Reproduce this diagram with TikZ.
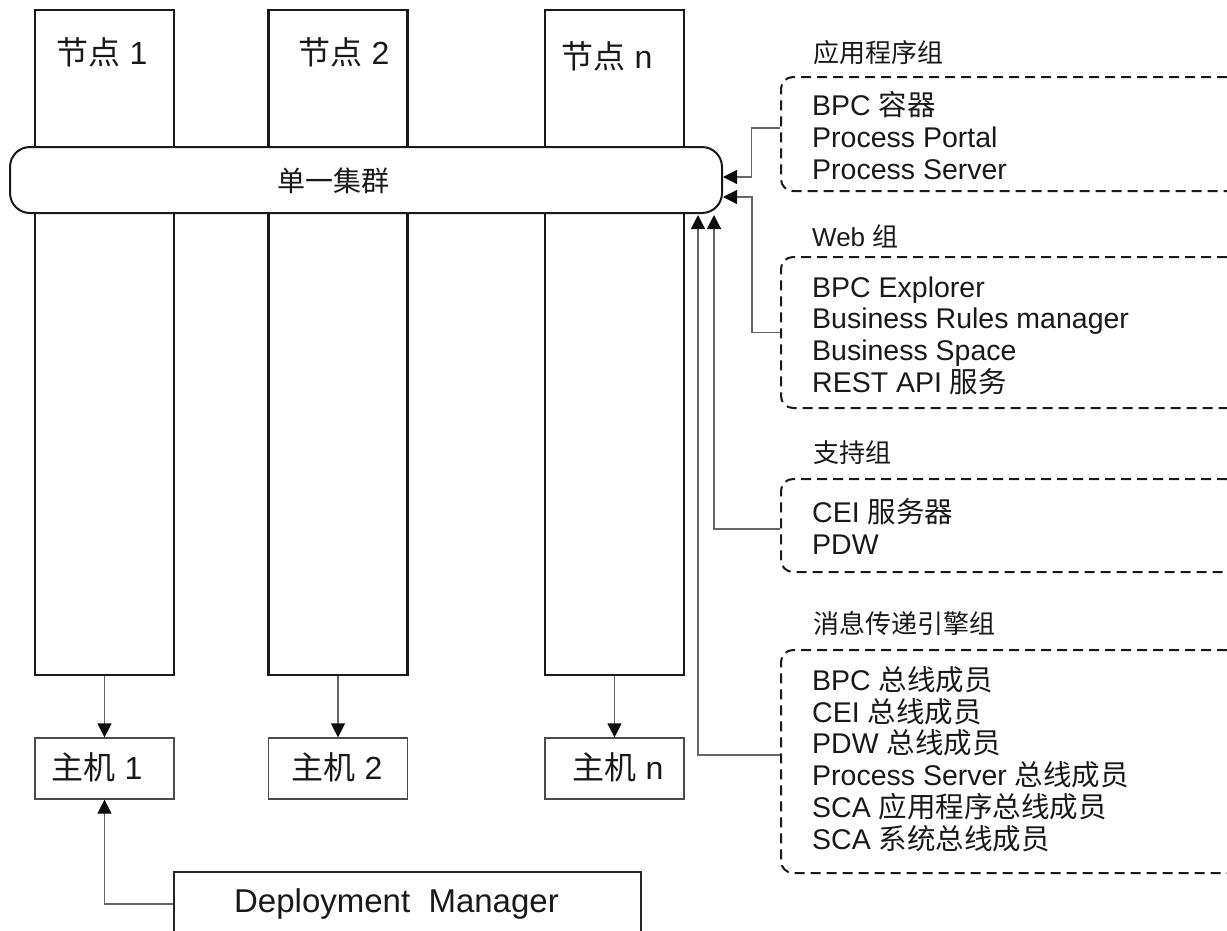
\documentclass[tikz,border=0pt]{standalone}
\usepackage{fontspec}
\setmainfont{Liberation Sans}
\newfontfamily\cjk{Noto Sans CJK SC}
\newcommand{\zh}[1]{{\cjk #1}}
\usetikzlibrary{arrows.meta,calc}
\begin{document}
\begin{tikzpicture}[x=1pt,y=-1pt,
  col/.style={draw=black!90,line width=2.2pt,minimum width=139pt,minimum height=665pt,inner sep=0pt},
  host/.style={draw=black!70,line width=1.2pt,minimum width=139pt,minimum height=61pt,inner sep=0pt},
  grp/.style={draw=black!90,line width=2pt,dash pattern=on 10pt off 6pt,rounded corners=12pt,minimum width=522pt,inner sep=0pt},
  conn/.style={draw=black!60,line width=1.2pt},
  arr/.style={conn,-{Triangle[length=14pt,width=14pt,color=black!95]}},
  big/.style={font=\fontsize{32}{32}\selectfont,inner sep=0pt,text=black!90},
  lbl/.style={font=\fontsize{26}{26}\selectfont,anchor=west,inner sep=0pt,text=black!90},
  items/.style={font=\fontsize{28.5}{31.7}\selectfont,align=left,anchor=west,inner sep=0pt,text=black!90},
]
\useasboundingbox (0,0) rectangle (1227,930);
\clip (0,0) rectangle (1227,930);
% columns
\node[col] (n1) at (104.5,342.5) {};
\node[col] (n2) at (338,342.5) {};
\node[col] (nn) at (614.5,342.5) {};
\node[big] (n1t) at (102,52) {\zh{节点} 1};
\node[big] (n2t) at (344,52) {\zh{节点} 2};
\node[big] (nnt) at (607,56) {\zh{节点} n};
% cluster
\node[draw=black!90,line width=2pt,fill=white,rounded corners=20pt,minimum width=712pt,minimum height=66pt,inner sep=0pt] (cl) at (366,180) {};
\node[font=\fontsize{28}{28}\selectfont,inner sep=0pt,text=black!90] (clt) at (333,181) {\zh{单一集群}};
% hosts
\node[host] (h1) at (104.5,768.5) {};
\node[host] (h2) at (338,768.5) {};
\node[host] (hn) at (614.5,768.5) {};
\node[big] (h1t) at (97,767) {\zh{主机} 1};
\node[big] (h2t) at (337,767) {\zh{主机} 2};
\node[big] (hnt) at (618,767) {\zh{主机} n};
\draw[arr] (n1.south) -- (h1.north);
\draw[arr] (n2.south) -- (h2.north);
\draw[arr] (nn.south) -- (hn.north);
% deployment manager
\node[draw=black!85,line width=1.2pt,minimum width=467pt,minimum height=120pt,inner sep=0pt] (dm) at (407.5,932) {};
\node[big,font=\fontsize{33}{33}\selectfont] (dmt) at (396.5,904) {Deployment\ \ Manager};
\draw[arr] (dmt -| dm.west) -| (h1.south);
% groups
\node[grp,minimum height=114pt] (app) at (1042,134) {};
\node[lbl] (appl) at (813,53) {\zh{应用程序组}};
\node[items] (appt) at (812,135.5) {BPC \zh{容器}\\Process Portal\\Process Server};
\node[grp,minimum height=151pt] (web) at (1042,332.5) {};
\node[lbl] (webl) at (812,236) {Web \zh{组}};
\node[items] (webt) at (812,335.5) {BPC Explorer\\Business Rules manager\\Business Space\\REST API \zh{服务}};
\node[grp,minimum height=93pt] (sup) at (1042,525.5) {};
\node[lbl] (supl) at (813,453) {\zh{支持组}};
\node[items] (supt) at (812,526.5) {CEI \zh{服务器}\\PDW};
\node[grp,minimum height=223pt] (msg) at (1042,761.5) {};
\node[lbl] (msgl) at (813,623) {\zh{消息传递引擎组}};
\node[items] (msgt) at (812,759) {BPC \zh{总线成员}\\CEI \zh{总线成员}\\PDW \zh{总线成员}\\Process Server \zh{总线成员}\\SCA \zh{应用程序总线成员}\\SCA \zh{系统总线成员}};
% connectors
\coordinate (j1) at (751.5,177);
\coordinate (j2) at (752,197);
\coordinate (j3) at (714,215);
\coordinate (j4) at (698,215);
\draw[arr] ([yshift=6pt]app.west) -| (j1) -- (j1 -| cl.east);
\draw[arr] (web.west) -| (j2) -- (j2 -| cl.east);
\draw[arr] ([yshift=-3.5pt]sup.west) -| (j3);
\draw[arr] ([yshift=6.5pt]msg.west) -| (j4);
\end{tikzpicture}
\end{document}
